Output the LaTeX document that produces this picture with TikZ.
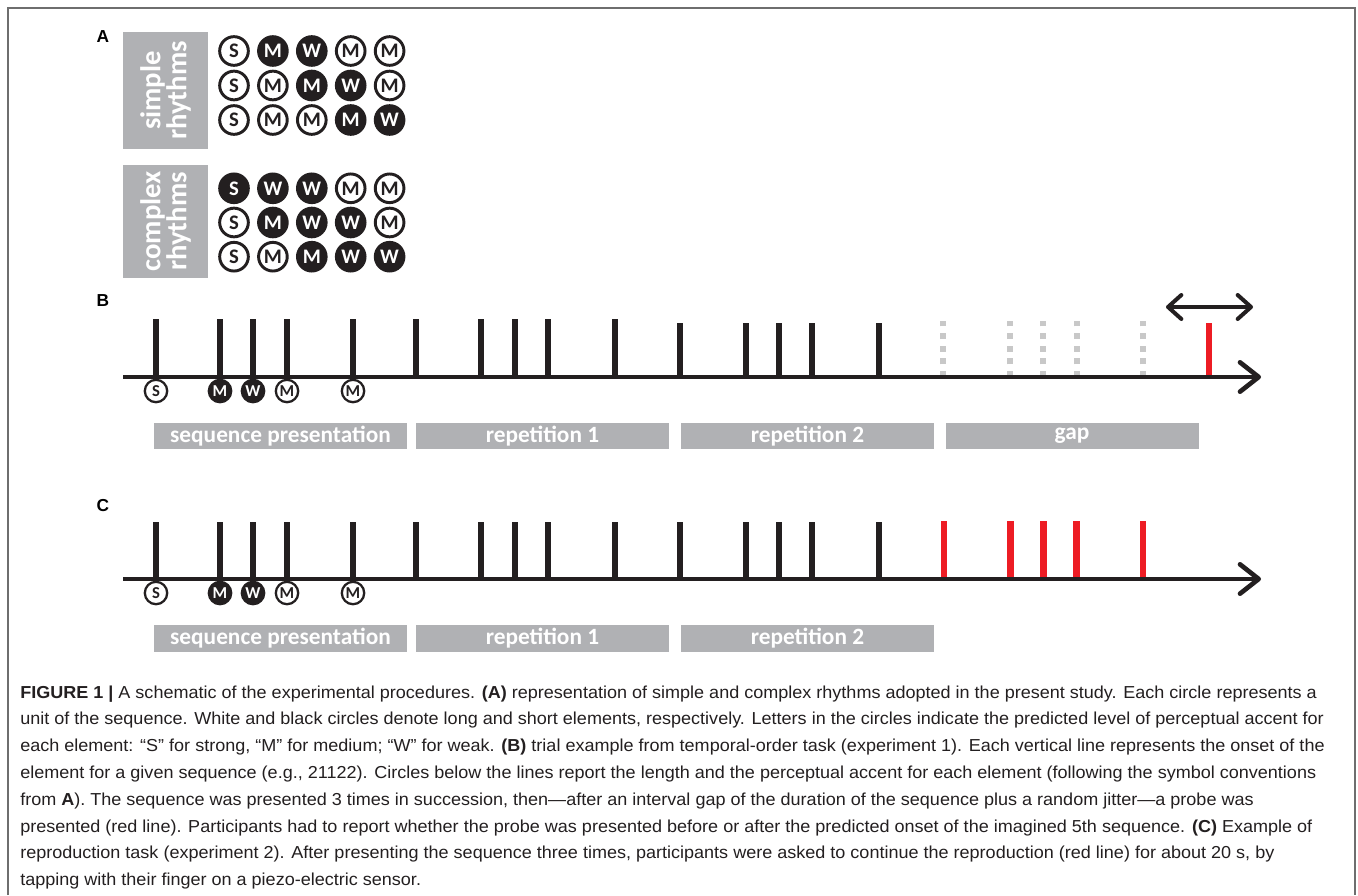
\documentclass[tikz,border=0pt]{standalone}
\usepackage{fontspec}
\setmainfont{Liberation Sans}
\newfontfamily\capfont[FakeStretch=1.04]{Liberation Sans}
\newfontfamily\calfont{Carlito}
\usetikzlibrary{arrows.meta}
\definecolor{ink}{HTML}{231F20}
\definecolor{barg}{HTML}{B0B1B4}
\definecolor{dashg}{HTML}{C8C8C8}
\definecolor{probe}{HTML}{ED1C24}
\definecolor{frameg}{HTML}{6E6E6E}
\begin{document}
\begin{tikzpicture}[x=0.75pt,y=-0.75pt,
 bigw/.style={circle,draw=ink,line width=2.2pt,fill=white,minimum size=21.5pt,inner sep=0pt,font=\calfont\bfseries\fontsize{15.5}{15.5}\selectfont,text=ink},
 bigb/.style={bigw,fill=ink,text=white},
 smw/.style={circle,draw=ink,line width=1.7pt,fill=white,minimum size=16.8pt,inner sep=0pt,font=\calfont\bfseries\fontsize{12.5}{12.5}\selectfont,text=ink},
 smb/.style={smw,fill=ink,text=white},
 rhythmbox/.style={fill=barg,inner sep=0pt,text=white,rotate=90,minimum height=63.75pt,font=\calfont\bfseries\fontsize{21.5}{18}\selectfont,align=center},
 phasebar/.style={fill=barg,inner sep=0pt,text=white,minimum width=189.75pt,minimum height=19.75pt,font=\calfont\bfseries\fontsize{17.5}{17.5}\selectfont},
 panellabel/.style={font=\bfseries\fontsize{13}{13}\selectfont,text=black,inner sep=0pt},
 tickline/.style={draw=ink,line width=5pt},
 redtick/.style={draw=probe,line width=5pt},
 ghosttick/.style={draw=dashg,line width=4.5pt,dash pattern=on 4.5pt off 5pt},
 axisline/.style={draw=ink,line width=3.5pt,-{Straight Barb[length=14pt,width=22pt,round]}},
 dblarrow/.style={draw=ink,line width=3pt,{Straight Barb[length=10pt,width=18pt,round]}-{Straight Barb[length=10pt,width=18pt,round]}},
 captext/.style={anchor=base west,inner sep=0pt,text=ink,font=\capfont\fontsize{13}{15}\selectfont}
]
\useasboundingbox (0,0) rectangle (1358,895);
\fill[white] (0,0) rectangle (1358,895);
% frame
\draw[frameg,line width=1.2pt] (8,895) -- (8,8) -- (1355,8) -- (1355,895);

% ---------- Panel A ----------
\node[panellabel] (labA) at (103,37) {A};
\node[rhythmbox,minimum width=87.75pt] (simplebox) at (165.5,90.5) {simple\\rhythms};
\node[rhythmbox,minimum width=84.75pt] (complexbox) at (165.5,221.5) {complex\\rhythms};

% simple rows
\node[bigw] (s11) at (234,51) {S};
\node[bigb] (s12) at (272.9,51) {M};
\node[bigb] (s13) at (311.8,51) {W};
\node[bigw] (s14) at (350.7,51) {M};
\node[bigw] (s15) at (389.6,51) {M};
\node[bigw] (s21) at (234,85.5) {S};
\node[bigw] (s22) at (272.9,85.5) {M};
\node[bigb] (s23) at (311.8,85.5) {M};
\node[bigb] (s24) at (350.7,85.5) {W};
\node[bigw] (s25) at (389.6,85.5) {M};
\node[bigw] (s31) at (234,120) {S};
\node[bigw] (s32) at (272.9,120) {M};
\node[bigw] (s33) at (311.8,120) {M};
\node[bigb] (s34) at (350.7,120) {M};
\node[bigb] (s35) at (389.6,120) {W};
% complex rows
\node[bigb] (c11) at (234,188.3) {S};
\node[bigb] (c12) at (272.9,188.3) {W};
\node[bigb] (c13) at (311.8,188.3) {W};
\node[bigw] (c14) at (350.7,188.3) {M};
\node[bigw] (c15) at (389.6,188.3) {M};
\node[bigw] (c21) at (234,222.5) {S};
\node[bigb] (c22) at (272.9,222.5) {M};
\node[bigb] (c23) at (311.8,222.5) {W};
\node[bigb] (c24) at (350.7,222.5) {W};
\node[bigw] (c25) at (389.6,222.5) {M};
\node[bigw] (c31) at (234,256.7) {S};
\node[bigw] (c32) at (272.9,256.7) {M};
\node[bigb] (c33) at (311.8,256.7) {M};
\node[bigb] (c34) at (350.7,256.7) {W};
\node[bigb] (c35) at (389.6,256.7) {W};

% ---------- Panel B ----------
\node[panellabel] (labB) at (103,301) {B};
\coordinate (bStart) at (123,377);
\coordinate (bEnd) at (1261,377);
\foreach \x in {156,220,253,287,353,416,481,515,548,615} \draw[tickline] (\x,377) -- (\x,319);
\foreach \x in {680,746,779,812,879} \draw[tickline] (\x,377) -- (\x,322.5);
\foreach \x in {943,1010,1043,1077,1143} \draw[ghosttick] (\x,377) -- (\x,321);
\draw[redtick] (1209,377) -- (1209,323);
\draw[axisline] (bStart) -- (bEnd);
\coordinate (dL) at (1166,307);
\coordinate (dR) at (1253,307);
\draw[dblarrow] (dL) -- (dR);
\node[smw] (bS1) at (156,391) {S};
\node[smb] (bM1) at (220,391) {M};
\node[smb] (bW1) at (253,391) {W};
\node[smw] (bM2) at (287,391) {M};
\node[smw] (bM3) at (353,391) {M};
\node[phasebar] (bseq) at (280.5,436) {sequence presentation};
\node[phasebar] (brep1) at (542.5,436) {repetition 1};
\node[phasebar] (brep2) at (807.5,436) {repetition 2};
\node[phasebar] (bgap) at (1072,436) {gap};

% ---------- Panel C ----------
\node[panellabel] (labC) at (103,506) {C};
\coordinate (cStart) at (123,579);
\coordinate (cEnd) at (1261,579);
\foreach \x in {156,220,253,287,353,416,481,515,548,615,680,746,779,812,879} \draw[tickline] (\x,579) -- (\x,521.5);
\foreach \x in {944,1010.5,1043.5,1076.5,1143} \draw[redtick] (\x,579) -- (\x,521);
\draw[axisline] (cStart) -- (cEnd);
\node[smw] (cS1) at (156,593) {S};
\node[smb] (cM1) at (220,593) {M};
\node[smb] (cW1) at (253,593) {W};
\node[smw] (cM2) at (287,593) {M};
\node[smw] (cM3) at (353,593) {M};
\node[phasebar] (cseq) at (280.5,638.5) {sequence presentation};
\node[phasebar] (crep1) at (542.5,638.5) {repetition 1};
\node[phasebar] (crep2) at (807.5,638.5) {repetition 2};

% ---------- Caption ----------
\node[captext] (cap1) at (20,698) {\textbf{FIGURE 1 |} A schematic of the experimental procedures. \textbf{(A)} representation of simple and complex rhythms adopted in the present study. Each circle represents a};
\node[captext] (cap2) at (20,724.8) {unit of the sequence. White and black circles denote long and short elements, respectively. Letters in the circles indicate the predicted level of perceptual accent for};
\node[captext] (cap3) at (20,751.6) {each element: “S” for strong, “M” for medium; “W” for weak. \textbf{(B)} trial example from temporal-order task (experiment 1). Each vertical line represents the onset of the};
\node[captext] (cap4) at (20,778.4) {element for a given sequence (e.g., 21122). Circles below the lines report the length and the perceptual accent for each element (following the symbol conventions};
\node[captext] (cap5) at (20,805.2) {from \textbf{A}). The sequence was presented 3 times in succession, then—after an interval gap of the duration of the sequence plus a random jitter—a probe was};
\node[captext] (cap6) at (20,832) {presented (red line). Participants had to report whether the probe was presented before or after the predicted onset of the imagined 5th sequence. \textbf{(C)} Example of};
\node[captext] (cap7) at (20,858.8) {reproduction task (experiment 2). After presenting the sequence three times, participants were asked to continue the reproduction (red line) for about 20 s, by};
\node[captext] (cap8) at (20,885.6) {tapping with their finger on a piezo-electric sensor.};
\end{tikzpicture}
\end{document}
